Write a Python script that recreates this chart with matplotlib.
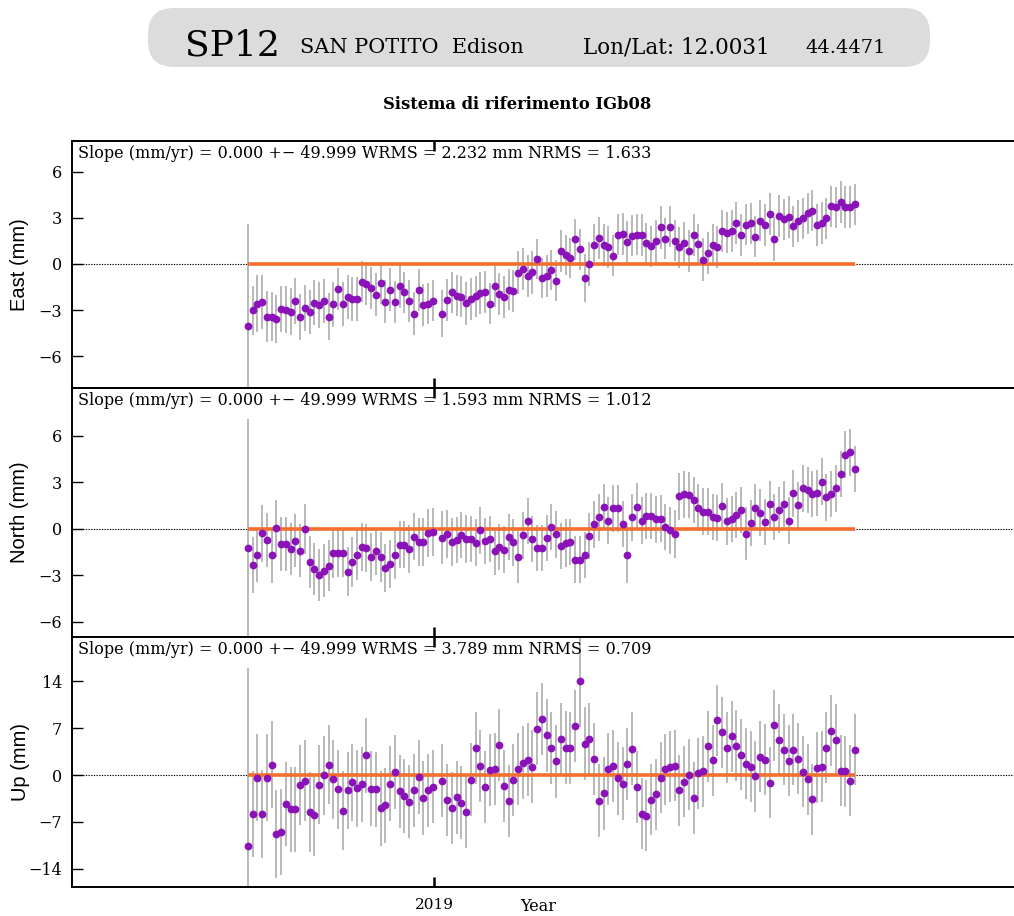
import numpy as np
import matplotlib
matplotlib.use("Agg")
import matplotlib.pyplot as plt
from matplotlib.patches import FancyBboxPatch

SITE = "SP12"
SITE_NAME = "SAN POTITO  Edison"
LON, LAT = "12.0031", "44.4471"
FRAME = "Sistema di riferimento IGb08"

# weekly solutions, one week missing
START_EPOCH = 2018.247
WEEKS_PER_YEAR = 52.1775
N_WEEKS = 129
MISSING_WEEK = 40
SLOPE = 0.0

east = [-4.04, -3.02, -2.59, -2.46, -3.41, -3.43, -3.59, -2.92, -2.96, -3.09,
        -2.38, -3.43, -2.85, -3.11, -2.51, -2.68, -2.40, -3.41, -2.61, -1.62,
        -2.59, -2.14, -2.27, -2.27, -1.14, -1.27, -1.56, -1.99, -1.23, -2.44,
        -1.66, -2.48, -1.45, -1.84, -2.40, -3.24, -1.68, -2.68, -2.57, -2.38,
        -3.22, -2.35, -1.84, -2.05, -2.12, -2.55, -2.27, -2.10, -1.88, -1.81,
        -2.57, -1.45, -1.94, -2.16, -1.66, -1.75, -0.58, -0.32, -0.80, -0.54,
        0.32, -0.89, -0.80, -0.37, -1.08, 0.86, 0.58, 0.37, 1.60, 0.95,
        -0.93, 0.00, 1.25, 1.68, 1.23, 1.10, 0.54, 1.90, 1.94, 1.43,
        1.84, 1.90, 1.88, 1.34, 1.14, 1.49, 2.38, 1.64, 2.42, 1.51,
        1.08, 1.36, 0.86, 1.86, 1.27, 0.28, 0.71, 1.23, 1.10, 2.12,
        2.03, 2.14, 2.66, 1.88, 2.55, 2.63, 1.77, 2.81, 2.53, 3.26,
        1.62, 3.11, 2.89, 3.05, 2.44, 2.79, 2.96, 3.28, 3.46, 2.51,
        2.66, 2.96, 3.74, 3.67, 4.02, 3.69, 3.71, 3.87]

north = [-1.22, -2.35, -1.71, -0.30, -0.73, -1.73, 0.04, -0.96, -0.98, -1.32,
         -0.77, -1.41, 0.00, -2.14, -2.61, -2.99, -2.71, -2.39, -1.60, -1.60,
         -1.58, -2.78, -2.14, -1.69, -1.17, -1.22, -1.82, -1.43, -1.82, -2.54,
         -2.28, -1.69, -1.02, -1.02, -1.28, -0.51, -0.83, -0.88, -0.26, -0.21,
         -0.58, -0.32, -0.85, -0.73, -0.41, -0.68, -0.68, -0.90, -0.11, -0.81,
         -0.68, -1.47, -1.20, -1.35, -0.53, -0.88, -1.82, -0.43, 0.49, -0.68,
         -1.26, -1.26, -0.60, 0.13, -0.36, -1.13, -0.92, -0.85, -1.99, -1.99,
         -1.71, -0.45, 0.28, 0.73, 1.41, 0.53, 1.32, 1.32, 0.30, -1.67,
         0.73, 1.43, 0.53, 0.83, 0.83, 0.60, 0.66, 0.13, -0.11, -0.32,
         2.09, 2.22, 2.20, 1.84, 1.37, 1.11, 1.11, 0.77, 0.70, 1.47,
         0.47, 0.62, 0.88, 1.20, -0.32, 0.36, 1.37, 1.05, 0.43, 1.58,
         0.75, 1.20, 1.60, 0.53, 2.28, 1.52, 2.61, 2.50, 2.24, 2.31,
         3.05, 2.03, 2.24, 2.61, 3.52, 4.80, 4.93, 3.87]

up = [-10.56, -5.82, -0.39, -5.82, -0.39, 1.52, -8.80, -8.55, -4.30, -5.13,
      -5.13, -1.52, -0.83, -5.52, -6.01, -1.47, -0.05, 1.52, -0.64, -2.10,
      -5.33, -2.30, -1.08, -2.00, -1.37, 2.93, -2.05, -2.10, -4.94, -4.50,
      -1.32, 0.49, -2.44, -3.08, -3.96, -2.30, -0.24, -3.47, -2.30, -1.71,
      -0.83, -3.76, -4.89, -3.32, -4.11, -5.47, -0.68, 4.01, 1.32, -1.76,
      0.73, 0.88, 4.50, -1.61, -3.86, -0.73, 0.88, 1.86, 2.30, 1.27,
      6.94, 8.36, 5.91, 4.06, 2.05, 5.33, 4.11, 4.06, 7.33, 14.03,
      4.69, 5.38, 2.44, -3.81, -2.74, 0.93, 1.37, -0.49, -1.27, 1.61,
      3.96, -1.81, -5.77, -6.06, -3.71, -2.83, -0.39, 0.88, 1.27, 1.42,
      -2.25, -1.03, 0.05, -3.42, 0.24, 0.54, 4.30, 2.20, 8.21, 6.40,
      4.06, 5.82, 4.40, 3.03, 1.66, 1.22, -0.20, 2.74, 2.30, -1.12,
      7.43, 5.23, 3.81, 2.15, 3.81, 2.44, 0.49, -0.59, -3.62, 1.12,
      1.27, 4.06, 6.60, 5.28, 0.68, 0.54, -0.83, 3.76]

east_sig = [6.64, 1.60, 1.85, 1.75, 1.65, 1.60, 1.55, 1.50, 1.55, 1.50,
            1.50, 1.50, 1.50, 1.45, 1.45, 1.50, 1.45, 1.55, 1.45, 1.35,
            1.45, 1.40, 1.40, 1.40, 1.35, 1.40, 1.35, 1.40, 1.35, 1.40,
            1.40, 1.35, 1.40, 1.35, 1.35, 1.40, 1.35, 1.35, 1.35, 1.35,
            1.50, 1.35, 1.35, 1.35, 1.35, 1.40, 1.35, 1.35, 1.35, 1.35,
            1.35, 1.35, 1.35, 1.35, 1.35, 1.35, 1.40, 1.35, 1.35, 1.40,
            1.30, 1.30, 1.35, 1.30, 1.35, 1.35, 1.30, 1.30, 1.35, 1.35,
            1.55, 1.40, 1.35, 1.35, 1.35, 1.35, 1.35, 1.35, 1.35, 1.35,
            1.35, 1.35, 1.35, 1.35, 1.35, 1.35, 1.40, 1.35, 1.35, 1.35,
            1.35, 1.35, 1.35, 1.35, 1.35, 1.40, 1.35, 1.35, 1.35, 1.35,
            1.35, 1.35, 1.35, 1.35, 1.35, 1.35, 1.35, 1.35, 1.35, 1.35,
            1.45, 1.35, 1.35, 1.35, 1.35, 1.35, 1.35, 1.35, 1.35, 1.35,
            1.35, 1.35, 1.35, 1.35, 1.35, 1.35, 1.35, 1.35]

north_sig = [8.33, 1.80, 1.75, 1.85, 1.75, 1.80, 1.85, 1.75, 1.75, 1.70,
             1.70, 1.70, 1.62, 1.70, 1.70, 1.70, 1.70, 1.65, 1.60, 1.55,
             1.55, 1.60, 1.60, 1.60, 1.55, 1.55, 1.55, 1.55, 1.60, 1.55,
             1.55, 1.55, 1.55, 1.55, 1.55, 1.50, 1.55, 1.55, 1.55, 1.55,
             1.70, 1.55, 1.55, 1.50, 1.50, 1.55, 1.50, 1.50, 1.50, 1.50,
             1.50, 1.50, 1.50, 1.50, 1.50, 1.50, 1.70, 1.50, 1.50, 1.50,
             1.50, 1.50, 1.50, 1.50, 1.50, 1.50, 1.55, 1.50, 1.50, 1.50,
             1.50, 1.50, 1.50, 1.50, 1.50, 1.50, 1.50, 1.50, 1.50, 1.85,
             1.50, 1.50, 1.50, 1.50, 1.50, 1.50, 1.50, 1.50, 1.50, 1.55,
             1.50, 1.50, 1.50, 1.50, 1.50, 1.50, 1.50, 1.50, 1.50, 1.50,
             1.50, 1.50, 1.50, 1.50, 1.70, 1.50, 1.50, 1.50, 1.50, 1.50,
             1.50, 1.50, 1.50, 1.50, 1.50, 1.50, 1.50, 1.50, 1.50, 1.50,
             1.50, 1.50, 1.50, 1.50, 1.50, 1.50, 1.50, 1.50]

up_sig = [26.5, 6.4, 6.5, 6.6, 6.5, 6.5, 6.5, 6.4, 6.3, 6.3,
          6.3, 6.0, 6.0, 6.0, 6.0, 5.9, 5.9, 5.9, 5.9, 5.9,
          5.9, 5.7, 5.7, 5.7, 5.6, 5.6, 5.6, 5.6, 5.6, 5.6,
          5.6, 5.5, 5.5, 5.5, 5.5, 5.5, 5.5, 5.5, 5.5, 5.5,
          5.5, 5.4, 5.4, 5.4, 5.4, 5.4, 5.4, 5.4, 5.4, 5.4,
          5.4, 5.4, 5.4, 5.4, 5.4, 5.4, 5.4, 5.4, 5.4, 5.4,
          5.4, 5.4, 5.4, 5.4, 5.4, 5.4, 5.4, 5.4, 5.4, 6.8,
          5.4, 5.4, 5.4, 5.4, 5.4, 5.4, 5.4, 5.4, 5.4, 5.4,
          5.4, 5.4, 5.3, 5.3, 5.3, 5.3, 5.3, 5.3, 5.3, 5.3,
          5.3, 5.3, 5.3, 5.3, 5.3, 5.3, 5.3, 5.3, 5.3, 5.3,
          5.3, 5.3, 5.3, 5.3, 5.3, 5.3, 5.3, 5.3, 5.3, 5.3,
          5.3, 5.3, 5.3, 5.3, 5.3, 5.3, 5.3, 5.3, 5.3, 5.3,
          5.3, 5.3, 5.3, 5.3, 5.3, 5.3, 5.3, 5.3]

stats = {
    "East": ("2.232", "1.633"),
    "North": ("1.593", "1.012"),
    "Up": ("3.789", "0.709"),
}

PURPLE = "#8b12b8"
ORANGE = "#f26f2e"
BAR_GREY = "#a6a6a6"
SERIF = ["DejaVu Serif"]
SANS = ["Liberation Sans", "DejaVu Sans"]

weeks = np.delete(np.arange(N_WEEKS), MISSING_WEEK)
epochs = START_EPOCH + weeks / WEEKS_PER_YEAR
mid = epochs.mean()

W, H = 1014, 916
fig = plt.figure(figsize=(W / 100, H / 100), dpi=100)

# header band in pixel coordinates
hdr = fig.add_axes([0, 0, 1, 1], zorder=-5)
hdr.set_xlim(0, W)
hdr.set_ylim(H, 0)
hdr.axis("off")
box = FancyBboxPatch((148, 8), 782, 59, boxstyle="round,pad=0,rounding_size=26",
                     facecolor="#dcdcdc", edgecolor="none")
hdr.add_patch(box)
hdr.text(185, 56, SITE, fontsize=26, family=SERIF, va="baseline")
hdr.text(300, 53, SITE_NAME, fontsize=15, family=SERIF, va="baseline")
hdr.text(583, 53, f"Lon/Lat: {LON}", fontsize=15.5, family=SERIF, va="baseline")
hdr.text(805, 53, LAT, fontsize=14, family=SERIF, va="baseline")
hdr.text(517, 109, FRAME, fontsize=11.8, family=SERIF, weight="bold",
         ha="center", va="baseline")

panels = [
    ("East", east, east_sig, (-8.05, 7.98), [-6, -3, 0, 3, 6], 141, 388),
    ("North", north, north_sig, (-7.0, 9.1), [-6, -3, 0, 3, 6], 388, 637),
    ("Up", up, up_sig, (-16.7, 20.6), [-14, -7, 0, 7, 14], 637, 887),
]

for name, vals, sig, ylim, yticks, top, bottom in panels:
    ax = fig.add_axes([72 / W, 1 - bottom / H, 1 - 72 / W, (bottom - top) / H])
    ax.axhline(0, color="black", lw=0.8, ls=(0, (1.2, 1.2)), zorder=1)
    ax.errorbar(epochs, vals, yerr=sig, fmt="none", ecolor=BAR_GREY,
                elinewidth=1.1, zorder=2)
    ax.plot(epochs, SLOPE * (epochs - mid), color=ORANGE, lw=2.6,
            solid_capstyle="butt", zorder=3)
    ax.plot(epochs, vals, "o", color=PURPLE, ms=5.6, mec="none", zorder=4)

    ax.set_xlim(2017.536, 2021.343)
    ax.set_ylim(*ylim)
    ax.set_xticks([2019])
    ax.set_yticks(yticks)
    ax.set_yticklabels([f"{t}".replace("-", "\u2212") for t in yticks],
                       family=SERIF, fontsize=11.5)
    ax.tick_params(axis="y", direction="in", length=8, width=1.0, pad=7)
    ax.tick_params(axis="x", direction="in", length=7, width=1.8, top=True,
                   labelbottom=(name == "Up"), pad=8)
    for lbl in ax.get_xticklabels():
        lbl.set_family(SERIF)
        lbl.set_fontsize(11)
    for side in ("left", "top", "bottom"):
        ax.spines[side].set_linewidth(1.4)
    ax.spines["right"].set_visible(False)

    ax.set_ylabel(f"{name} (mm)", family=SANS, fontsize=14.5, va="center")
    ax.yaxis.set_label_coords(-52 / 942, 0.5)

    wrms, nrms = stats[name]
    ax.text(6 / 942, 0.985,
            f"Slope (mm/yr) = 0.000 +\u2212 49.999 WRMS = {wrms} mm NRMS = {nrms}",
            transform=ax.transAxes, family=SERIF, fontsize=11.5, va="top")

fig.text(520 / W, 1 - 911 / H, "Year", family=SERIF, fontsize=11.5, va="baseline")

fig.savefig("out.png", dpi=100)
